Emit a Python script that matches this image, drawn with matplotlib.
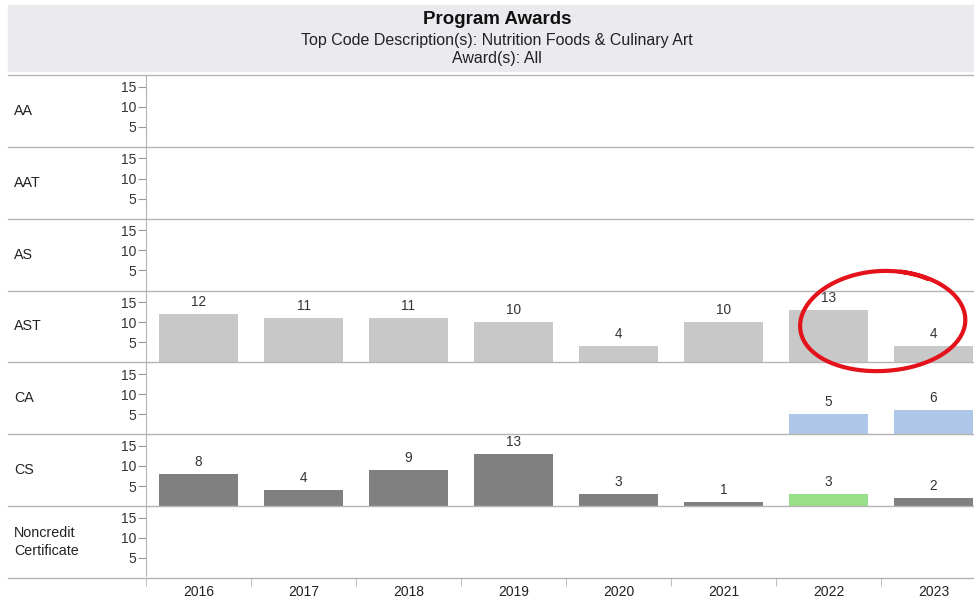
import numpy as np
import matplotlib.pyplot as plt
from matplotlib.lines import Line2D
from matplotlib.patches import Rectangle

plt.rcParams['font.family'] = ['Liberation Sans', 'DejaVu Sans']

years = ['2016', '2017', '2018', '2019', '2020', '2021', '2022', '2023']
award_types = ['AA', 'AAT', 'AS', 'AST', 'CA', 'CS', 'Noncredit\nCertificate']

# award counts per type (None = no awards that year)
aa = [None] * 8
aat = [None] * 8
as_ = [None] * 8
ast = [12, 11, 11, 10, 4, 10, 13, 4]
ca = [None, None, None, None, None, None, 5, 6]
cs = [8, 4, 9, 13, 3, 1, 3, 2]
noncredit = [None] * 8

series = [aa, aat, as_, ast, ca, cs, noncredit]
colors = {
    'AST': ['#c8c8c8'] * 8,
    'CA': ['#aec7e8'] * 8,
    'CS': ['#808080'] * 6 + ['#98df8a', '#808080'],
}

W, H = 974, 599
fig = plt.figure(figsize=(W / 100, H / 100), dpi=100)


def fx(px):
    return px / W


def fy(py):
    return 1 - py / H


# header band
fig.add_artist(Rectangle((fx(8), fy(71)), fx(974 - 8), (71 - 5) / H,
                         transform=fig.transFigure, color='#ebebef', zorder=0))
fig.text(fx(497), fy(20), 'Program Awards', ha='center', va='center',
         fontsize=13.5, fontweight='bold', color='#111111')
fig.text(fx(497), fy(41), 'Top Code Description(s): Nutrition Foods & Culinary Art',
         ha='center', va='center', fontsize=11.5, color='#222222')
fig.text(fx(497), fy(59), 'Award(s): All', ha='center', va='center',
         fontsize=11.5, color='#222222')

left_px = 146
slot = 105.0
row_top = 75.0
row_h = (578 - 75) / 7
n_slots = (W - left_px) / slot

grid_col = '#b4b4b4'
for i, (label, vals) in enumerate(zip(award_types, series)):
    top = row_top + i * row_h
    ax = fig.add_axes([fx(left_px), fy(top + row_h), fx(W - left_px), row_h / H])
    ax.set_xlim(-0.5, n_slots - 0.5)
    ax.set_ylim(0, 17.9)
    for s in ['top', 'right', 'bottom']:
        ax.spines[s].set_visible(False)
    ax.spines['left'].set_color(grid_col)
    ax.set_yticks([5, 10, 15])
    ax.tick_params(axis='y', length=6, color='#999999', labelsize=10,
                   labelcolor='#333333', pad=1)
    ax.set_xticks([])

    cols = colors.get(label, ['#c8c8c8'] * 8)
    for j, v in enumerate(vals):
        if v is None:
            continue
        ax.bar(j, v, width=0.75, color=cols[j], clip_on=True)
        ax.text(j, v + 1.3, str(v), ha='center', va='bottom',
                fontsize=9.8, color='#333333')

    fig.text(fx(14), fy(top + row_h / 2), label, ha='left', va='center',
             fontsize=10.3, color='#222222', linespacing=1.3)

    # row separator
    fig.add_artist(Line2D([fx(8), 1], [fy(top + row_h)] * 2,
                          transform=fig.transFigure, color=grid_col, lw=1))

fig.add_artist(Line2D([fx(8), 1], [fy(row_top)] * 2,
                      transform=fig.transFigure, color=grid_col, lw=1))

# year axis along the bottom
xax = fig.add_axes([fx(left_px), fy(578), fx(W - left_px), 0.001])
xax.set_xlim(-0.5, n_slots - 0.5)
for s in ['top', 'right', 'left', 'bottom']:
    xax.spines[s].set_visible(False)
xax.set_yticks([])
xax.set_xticks(range(len(years)))
xax.set_xticklabels(years, fontsize=10, color='#222222')
xax.set_xticks(np.arange(len(years)) - 0.5, minor=True)
xax.tick_params(axis='x', which='major', length=0, pad=5)
xax.tick_params(axis='x', which='minor', length=6, color=grid_col)

# hand-drawn red loop around the last two AST bars
t = np.linspace(0.3 * np.pi, 2.42 * np.pi, 300)
rx = 81 + 3 * (t - t[0]) / (t[-1] - t[0])
ry = 50 + 2 * np.sin(t)
ang = np.deg2rad(-3)
ex = rx * np.cos(t)
ey = -ry * np.sin(t)
cx, cy = 882, 323
px = cx + ex * np.cos(ang) - ey * np.sin(ang)
py = cy + ex * np.sin(ang) + ey * np.cos(ang)
fig.add_artist(Line2D(fx(px), fy(py), transform=fig.transFigure,
                      color='#e3121b', lw=3, solid_capstyle='round', zorder=10))

fig.savefig('out.png', dpi=100)
